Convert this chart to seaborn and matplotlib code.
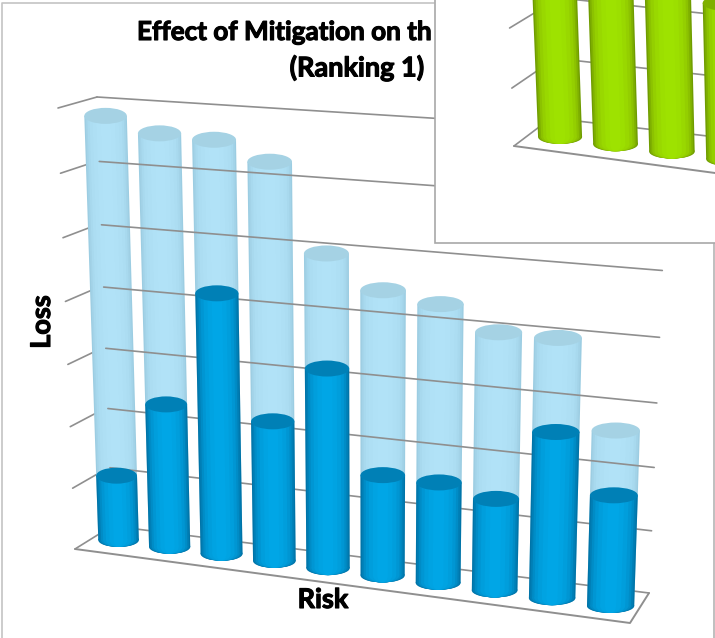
#!/usr/bin/env python3
"""Loss per risk before/after mitigation, drawn as Excel style 3D cylinders,
with the pasted green ranking chart covering the top right corner."""

import numpy as np
import matplotlib; matplotlib.use("Agg")
import matplotlib.pyplot as plt
import matplotlib.patheffects as pe
import matplotlib.transforms as mtransforms
from matplotlib.patches import Ellipse, Rectangle
import seaborn as sns

W, H = 715, 638

risks = [f"R{i}" for i in range(1, 11)]
loss_before = [6.76, 6.55, 6.51, 6.24, 4.93, 4.45, 4.32, 3.98, 3.98, 2.69]
loss_after = [1.07, 2.33, 4.17, 2.25, 3.17, 1.60, 1.59, 1.44, 2.57, 1.71]
green_risks = ["R1", "R2", "R3", "R4"]
green_loss = [3.0, 3.0, 3.0, 2.42]
grid_values = [0, 1, 2, 3, 4, 5, 6, 7]
green_grid_values = [0, 1, 2]

# nested bar widths, outermost first: fakes the cylinder shading
shade_fracs = [1.0, 0.94, 0.86, 0.76, 0.62, 0.44, 0.24]
dark_shades = ["#0074a8", "#007fb6", "#008cc6", "#0096d3", "#009edc", "#00a3e2", "#00a6e6"]
light_shades = ["#9ccde2", "#a3d3e8", "#a8d9ee", "#acddf2", "#aedff4", "#b0e1f6", "#b1e2f7"]
green_shades = ["#6f9c00", "#7fb000", "#8cc200", "#94cf00", "#99d800", "#9cdf00", "#9ee200"]
DARK_CAP, LIGHT_CAP, GREEN_CAP = "#0080b6", "#a5d2e4", "#7fb000"
GRID = "#8f8f8f"
BAR_W = 0.8


def homography(src, dst):
    A, b = [], []
    for (x, y), (u, v) in zip(src, dst):
        A.append([x, y, 1, 0, 0, 0, -u * x, -u * y]); b.append(u)
        A.append([0, 0, 0, x, y, 1, -v * x, -v * y]); b.append(v)
    return np.append(np.linalg.solve(np.array(A, float), np.array(b, float)), 1).reshape(3, 3)


class Persp(mtransforms.Transform):
    """Projective map from data to pixels (y down in the corners, flipped here).
    With flat=True y is taken at the nearest category, so bar ends stay level."""
    input_dims = output_dims = 2
    is_separable = False
    has_inverse = False

    def __init__(self, corners, xmax, ymax, flat=False):
        super().__init__()
        self.m = homography([(0, 0), (xmax, 0), (0, ymax), (xmax, ymax)], corners)
        self.flat = flat

    def _map(self, x, y):
        d = self.m[2, 0] * x + self.m[2, 1] * y + 1
        return (self.m[0, 0] * x + self.m[0, 1] * y + self.m[0, 2]) / d, \
               (self.m[1, 0] * x + self.m[1, 1] * y + self.m[1, 2]) / d

    def transform_non_affine(self, values):
        values = np.asarray(values, float)
        x, y = values[:, 0], values[:, 1]
        px, py = self._map(x, y)
        if self.flat:
            _, py = self._map(np.round(x), y)
        return np.column_stack([px, H - py])


def cylinders(ax, cats, vals, shades, cap, tr, z):
    """One set of bars: nested seaborn bars, rounded bottoms, flat cap on top."""
    for frac, col in zip(shade_fracs, shades):
        n = len(ax.patches)
        sns.barplot(x=cats, y=vals, width=BAR_W * frac, color=col, saturation=1,
                    linewidth=0, ax=ax, zorder=z)
        for p in ax.patches[n:]:
            p.set_transform(tr)
        for i in range(len(cats)):
            (x0, y0), (x1, _) = tr.transform([[i - BAR_W * frac / 2, 0], [i + BAR_W * frac / 2, 0]])
            ax.add_patch(Ellipse(((x0 + x1) / 2, y0), x1 - x0, 14, color=col, lw=0, zorder=z,
                                 transform=mtransforms.IdentityTransform()))
    for i, v in enumerate(vals):
        (x0, y0), (x1, _) = tr.transform([[i - BAR_W / 2, v], [i + BAR_W / 2, v]])
        ax.add_patch(Ellipse(((x0 + x1) / 2, y0), x1 - x0, 16, color=cap, lw=0, zorder=z + 0.1,
                             transform=mtransforms.IdentityTransform()))


def frame(ax, back, side, values, front_edge, z):
    for v in values:
        ax.plot([0, 1], [v, v], color=GRID, lw=1.2, zorder=z, transform=back)
        ax.plot([0, 1], [v, v], color=GRID, lw=1.2, zorder=z - 3, transform=side)
    fx, fy = zip(*[(x, H - y) for x, y in front_edge])
    ax.plot(fx, fy, color=GRID, lw=1.4, zorder=z, transform=mtransforms.IdentityTransform())


sns.set_theme(style="white")
plt.rcParams["font.family"] = ["Lato", "DejaVu Sans"]

fig = plt.figure(figsize=(W / 100, H / 100), dpi=100, facecolor="white")
ax = fig.add_axes([0, 0, 1, 1])

# blue chart
bars_tr = Persp([(118.5, 540), (610.5, 606), (105, 100), (624.5, 133)], 9, 7, flat=True)
back_tr = Persp([(112, 526), (649, 593), (97, 97), (668, 133)], 1, 7)
side_tr = Persp([(75, 549), (112, 526), (58, 108), (97, 97)], 1, 7)
frame(ax, back_tr, side_tr, grid_values, [(75, 549), (630, 623), (649, 593)], 5)
cylinders(ax, risks, loss_before, light_shades, LIGHT_CAP, bars_tr, 3)
cylinders(ax, risks, loss_after, dark_shades, DARK_CAP, bars_tr, 7)

# green chart pasted over the corner
ax.add_patch(Rectangle((434.5, H - 242.5), W, 260, fc="white", ec="#a8a8a8", lw=1.2, zorder=20,
                       transform=mtransforms.IdentityTransform()))
green_bars_tr = Persp([(560, 137), (1095, 207), (543, -318), (1104, -283)], 9, 7, flat=True)
green_back_tr = Persp([(551, 118), (1090, 180), (545, -318), (1106, -270)], 1, 7)
green_side_tr = Persp([(514, 146), (551, 118), (497, -310), (540, -318)], 1, 7)
frame(ax, green_back_tr, green_side_tr, green_grid_values, [(514, 146), (730, 175)], 24)
cylinders(ax, green_risks, green_loss, green_shades, GREEN_CAP, green_bars_tr, 26)

# text sits under the pasted chart; the stroke thickens it to the reference's heavy bold
heavy = dict(fontweight="bold", color="black", va="center",
             transform=mtransforms.IdentityTransform(),
             path_effects=[pe.withStroke(linewidth=0.8, foreground="black")])
ax.text(137, H - 32, "Effect of Mitigation on th", ha="left", zorder=10, fontsize=18.8, **heavy)
ax.text(424, H - 68, "(Ranking 1)", ha="right", zorder=10, fontsize=19.5, **heavy)
ax.text(42, H - 322, "Loss", rotation=90, ha="center", fontsize=19.5, **heavy)
ax.text(323, H - 600, "Risk", ha="center", fontsize=19.5, **heavy)

# outer border of the screenshot
ax.plot([1.5, 1.5, 434], [0, H - 3, H - 3], color="#c4c4c4", lw=1.2, zorder=1,
        transform=mtransforms.IdentityTransform())
ax.plot([714, 714], [H - 243, 0], color="#b4b4b4", lw=1.2, zorder=1,
        transform=mtransforms.IdentityTransform())

ax.set_axis_off()
fig.savefig("out.png", dpi=100, facecolor="white")
